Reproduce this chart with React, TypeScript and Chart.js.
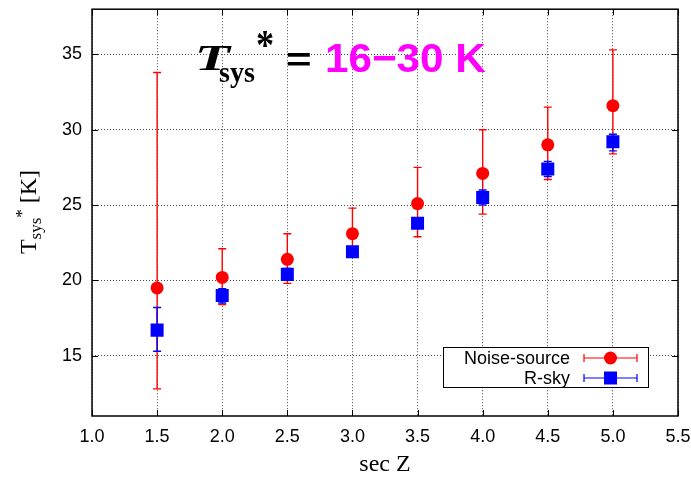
import React, { useEffect, useRef } from 'react';
import { Chart, registerables } from 'chart.js';

Chart.register(...registerables);

const secZ = [1.5, 2.0, 2.5, 3.0, 3.5, 4.0, 4.5, 5.0];
const noiseSource = [19.5, 20.2, 21.4, 23.1, 25.1, 27.1, 29.0, 31.6];
const noiseLow = [12.8, 18.4, 19.8, 21.6, 22.9, 24.4, 26.7, 28.4];
const noiseHigh = [33.8, 22.1, 23.1, 24.8, 27.5, 30.0, 31.5, 35.3];
const rSky = [16.7, 19.0, 20.4, 21.9, 23.8, 25.5, 27.4, 29.2];
const rSkyLow = [15.3, 18.5, 20.0, 21.6, 23.5, 25.0, 26.9, 28.6];
const rSkyHigh = [18.2, 19.45, 20.8, 22.2, 24.1, 26.0, 27.9, 29.7];
const xTicks = [1.0, 1.5, 2.0, 2.5, 3.0, 3.5, 4.0, 4.5, 5.0, 5.5];
const yTicks = [15, 20, 25, 30, 35];
const seriesLabels = ['Noise-source', 'R-sky'];
const seriesColors = ['#ff0000', '#0000ff'];

const SANS = '"Liberation Sans", Arial, sans-serif';
const SERIF = '"Liberation Serif", "Times New Roman", serif';

const errLows = [noiseLow, rSkyLow];
const errHighs = [noiseHigh, rSkyHigh];

function drawMarker(ctx: CanvasRenderingContext2D, idx: number, x: number, y: number) {
  ctx.fillStyle = seriesColors[idx];
  if (idx === 0) {
    ctx.beginPath();
    ctx.arc(x, y, 6.5, 0, Math.PI * 2);
    ctx.fill();
  } else {
    ctx.fillRect(x - 6.5, y - 6.5, 13, 13);
  }
}

// draw text so that its ink box fills the given box
function fitText(
  ctx: CanvasRenderingContext2D,
  text: string,
  font: string,
  color: string,
  left: number,
  right: number,
  top: number,
  bottom: number
) {
  ctx.save();
  ctx.font = font;
  ctx.textAlign = 'left';
  ctx.textBaseline = 'alphabetic';
  const m = ctx.measureText(text);
  const w = m.actualBoundingBoxLeft + m.actualBoundingBoxRight;
  const h = m.actualBoundingBoxAscent + m.actualBoundingBoxDescent;
  const sx = (right - left) / w;
  const sy = (bottom - top) / h;
  ctx.translate(left, top + m.actualBoundingBoxAscent * sy);
  ctx.scale(sx, sy);
  ctx.fillStyle = color;
  ctx.fillText(text, m.actualBoundingBoxLeft, 0);
  ctx.restore();
}

const customPlugin = {
  id: 'custom',
  beforeDatasetDraw(chart: any, args: any) {
    const ctx = chart.ctx as CanvasRenderingContext2D;
    const i = args.index;
    const xs = chart.scales.x;
    const ys = chart.scales.y;
    ctx.save();
    ctx.strokeStyle = seriesColors[i];
    ctx.lineWidth = 1.4;
    secZ.forEach((xv, k) => {
      const px = xs.getPixelForValue(xv);
      const p1 = ys.getPixelForValue(errLows[i][k]);
      const p2 = ys.getPixelForValue(errHighs[i][k]);
      ctx.beginPath();
      ctx.moveTo(px, p1);
      ctx.lineTo(px, p2);
      ctx.moveTo(px - 4, p1);
      ctx.lineTo(px + 4, p1);
      ctx.moveTo(px - 4, p2);
      ctx.lineTo(px + 4, p2);
      ctx.stroke();
    });
    ctx.restore();
  },
  afterDraw(chart: any) {
    const ctx = chart.ctx as CanvasRenderingContext2D;
    const a = chart.chartArea;
    const xs = chart.scales.x;
    const ys = chart.scales.y;
    ctx.save();
    // inner ticks
    ctx.strokeStyle = '#000';
    ctx.lineWidth = 1;
    ctx.beginPath();
    xTicks.forEach((v) => {
      const px = Math.round(xs.getPixelForValue(v)) + 0.5;
      ctx.moveTo(px, a.bottom);
      ctx.lineTo(px, a.bottom - 6);
      ctx.moveTo(px, a.top);
      ctx.lineTo(px, a.top + 6);
    });
    yTicks.forEach((v) => {
      const py = Math.round(ys.getPixelForValue(v)) + 0.5;
      ctx.moveTo(a.left, py);
      ctx.lineTo(a.left + 6, py);
      ctx.moveTo(a.right, py);
      ctx.lineTo(a.right - 6, py);
    });
    ctx.stroke();
    // frame
    ctx.lineWidth = 1.5;
    ctx.strokeRect(a.left, a.top, a.right - a.left, a.bottom - a.top);

    // big annotation text
    const L = a.left;
    fitText(ctx, 'T', `italic bold 36px ${SERIF}`, '#000', L + 106, L + 141, 46, 70);
    fitText(ctx, 'sys', `bold 28px ${SERIF}`, '#000', L + 127, L + 163, 68, 88);
    fitText(ctx, '*', `bold 34px ${SERIF}`, '#000', L + 165, L + 181, 32, 48);
    fitText(ctx, '=', `bold 40px ${SANS}`, '#000', L + 195, L + 218, 53, 66);
    fitText(ctx, '16\u221230 K', `bold 40px ${SANS}`, '#ff00ff', L + 235, L + 394, 43, 72);

    // x axis title
    ctx.fillStyle = '#000';
    ctx.textBaseline = 'alphabetic';
    ctx.font = `24px ${SERIF}`;
    ctx.textAlign = 'center';
    ctx.fillText('sec Z', (a.left + a.right) / 2, 471);

    // y axis title
    ctx.save();
    ctx.translate(36, 212);
    ctx.rotate(-Math.PI / 2);
    ctx.textAlign = 'left';
    const parts: [string, string, number][] = [
      ['T', `24px ${SERIF}`, 0],
      ['sys', `17px ${SERIF}`, 5],
      ['*', `17px ${SERIF}`, -9],
      [' [K]', `24px ${SERIF}`, 0],
    ];
    let total = 0;
    parts.forEach(([t, f]) => {
      ctx.font = f;
      total += ctx.measureText(t).width;
    });
    let cx = -total / 2;
    parts.forEach(([t, f, dy]) => {
      ctx.font = f;
      ctx.fillText(t, cx, dy);
      cx += ctx.measureText(t).width;
    });
    ctx.restore();

    // legend
    const lx0 = a.right - 235;
    const lx1 = a.right - 30;
    const ly0 = a.bottom - 69;
    const ly1 = a.bottom - 29;
    ctx.fillStyle = '#fff';
    ctx.fillRect(lx0, ly0, lx1 - lx0, ly1 - ly0);
    ctx.strokeStyle = '#000';
    ctx.lineWidth = 1;
    ctx.strokeRect(lx0 + 0.5, ly0 + 0.5, lx1 - lx0, ly1 - ly0);
    ctx.font = `18px ${SANS}`;
    ctx.textAlign = 'right';
    ctx.textBaseline = 'middle';
    seriesLabels.forEach((lab, i) => {
      const y = ly0 + 11 + i * 20;
      ctx.fillStyle = '#000';
      ctx.fillText(lab, lx1 - 78, y + 1);
      const sx0 = lx1 - 64;
      const sx1 = lx1 - 11;
      ctx.strokeStyle = seriesColors[i];
      ctx.lineWidth = 1.2;
      ctx.beginPath();
      ctx.moveTo(sx0, y);
      ctx.lineTo(sx1, y);
      ctx.moveTo(sx0, y - 4);
      ctx.lineTo(sx0, y + 4);
      ctx.moveTo(sx1, y - 4);
      ctx.lineTo(sx1, y + 4);
      ctx.stroke();
      drawMarker(ctx, i, (sx0 + sx1) / 2, y);
    });
    ctx.restore();
  },
};

export default function App() {
  const ref = useRef<HTMLCanvasElement>(null);
  useEffect(() => {
    document.body.style.margin = '0';
    const canvas = ref.current!;
    const tickFont = { family: SANS, size: 18 };
    const chart = new Chart(canvas, {
      type: 'scatter',
      data: {
        datasets: [
          {
            label: seriesLabels[0],
            data: secZ.map((x, i) => ({ x, y: noiseSource[i] })),
            pointStyle: 'circle',
            pointRadius: 6.5,
            borderWidth: 0,
            backgroundColor: seriesColors[0],
            borderColor: seriesColors[0],
            order: 2,
          },
          {
            label: seriesLabels[1],
            data: secZ.map((x, i) => ({ x, y: rSky[i] })),
            pointStyle: 'rect',
            pointRadius: 9.2,
            borderWidth: 0,
            backgroundColor: seriesColors[1],
            borderColor: seriesColors[1],
            order: 1,
          },
        ],
      },
      options: {
        animation: false,
        responsive: false,
        events: [],
        layout: { padding: { top: 7, right: 13, left: 0, bottom: 0 } },
        plugins: { legend: { display: false }, tooltip: { enabled: false }, title: { display: false } },
        scales: {
          x: {
            type: 'linear',
            min: 1.0,
            max: 5.5,
            afterBuildTicks: (s: any) => {
              s.ticks = xTicks.map((v) => ({ value: v }));
            },
            afterFit: (s: any) => {
              s.height = 61;
              s.paddingLeft = 0;
              s.paddingRight = 0;
            },
            ticks: {
              font: tickFont,
              color: '#000',
              padding: 10,
              maxRotation: 0,
              autoSkip: false,
              callback: (v: any) => Number(v).toFixed(1),
            },
            grid: { color: 'rgba(0,0,0,0.7)', lineWidth: 1, drawTicks: false },
            border: { display: false, dash: [1, 2] },
          },
          y: {
            type: 'linear',
            min: 11,
            max: 38,
            afterBuildTicks: (s: any) => {
              s.ticks = yTicks.map((v) => ({ value: v }));
            },
            afterFit: (s: any) => {
              s.width = 92;
              s.paddingTop = 0;
              s.paddingBottom = 0;
            },
            ticks: {
              font: tickFont,
              color: '#000',
              padding: 10,
              autoSkip: false,
              callback: (v: any) => String(v),
            },
            grid: { color: 'rgba(0,0,0,0.7)', lineWidth: 1, drawTicks: false },
            border: { display: false, dash: [1, 2] },
          },
        },
      },
      plugins: [customPlugin],
    } as any);
    return () => chart.destroy();
  }, []);
  return <canvas ref={ref} width={691} height={477} style={{ display: 'block', width: 691, height: 477 }} />;
}
